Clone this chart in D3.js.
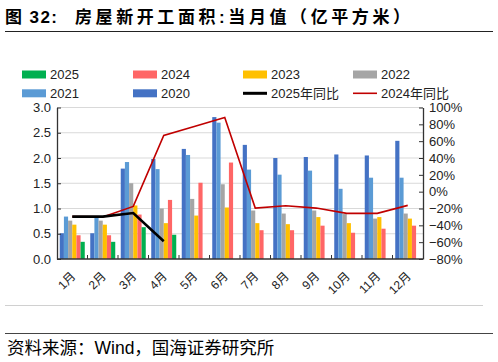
<!DOCTYPE html>
<html>
<head>
<meta charset="utf-8">
<script src="https://cdn.jsdelivr.net/npm/d3@7"></script>
<style>
  body { margin: 0; background: #fff; }
  svg { display: block; font-family: "Liberation Sans", Arial, "Noto Sans CJK SC", sans-serif; }
</style>
</head>
<body>
<div id="chart"></div>
<script>
// 数据（亿平方米 / 同比）
const months = ["1月","2月","3月","4月","5月","6月","7月","8月","9月","10月","11月","12月"];
const years = ["2020","2021","2022","2023","2024","2025"];
const v2020 = [0.51,0.51,1.79,1.98,2.18,2.81,2.26,2.00,2.02,2.07,2.05,2.34];
const v2021 = [0.84,0.82,1.92,1.78,2.06,2.70,1.77,1.67,1.75,1.39,1.61,1.61];
const v2022 = [0.76,0.76,1.50,1.00,1.19,1.48,0.96,0.90,0.96,0.89,0.80,0.90];
const v2023 = [0.68,0.68,1.06,0.71,0.86,1.02,0.71,0.69,0.83,0.71,0.83,0.80];
const v2024 = [0.47,0.47,0.88,1.17,1.51,1.91,0.57,0.57,0.66,0.52,0.60,0.66];
const v2025 = [0.34,0.34,0.63,0.48];
const yoy2025 = [-0.297,-0.297,-0.254,-0.59];
const yoy2024 = [-0.297,-0.30,-0.175,0.668,0.775,0.88,-0.195,-0.167,-0.195,-0.258,-0.258,-0.163];
const leftTicks = [0,0.5,1,1.5,2,2.5,3];
const rightTicks = [-0.8,-0.6,-0.4,-0.2,0,0.2,0.4,0.6,0.8,1.0];

const colors = {"2020":"#4472C4","2021":"#5B9BD5","2022":"#A5A5A5","2023":"#FFC000","2024":"#FF6666","2025":"#00B050"};
const series = {"2020":v2020,"2021":v2021,"2022":v2022,"2023":v2023,"2024":v2024,"2025":v2025};

const W = 498, H = 362;
const svg = d3.select("#chart").append("svg").attr("width", W).attr("height", H);

// 标题
svg.append("text").attr("x", 5).attr("y", 23)
  .attr("font-size", 17).attr("font-weight", "bold").attr("fill", "#000")
  .attr("textLength", 52).attr("lengthAdjust", "spacing")
  .text("图 32:");
svg.append("text").attr("x", 75).attr("y", 23)
  .attr("font-size", 17).attr("font-weight", "bold").attr("fill", "#000")
  .attr("textLength", 335).attr("lengthAdjust", "spacing")
  .text("房屋新开工面积:当月值（亿平方米）");
svg.append("line").attr("x1", 5).attr("x2", 493).attr("y1", 31.5).attr("y2", 31.5)
  .attr("stroke", "#222").attr("stroke-width", 1);

const x0 = 57, x1 = 423, yTop = 107.5, yBot = 259;
const x = d3.scaleBand().domain(months).range([x0, x1]).paddingInner(0.18).paddingOuter(0.09);
const xi = d3.scaleBand().domain(years).range([0, x.bandwidth()]);
const yL = d3.scaleLinear().domain([0, 3]).range([yBot, yTop]);
const yR = d3.scaleLinear().domain([-0.8, 1.0]).range([yBot, yTop]);

// 网格线
svg.append("g").selectAll("line").data(leftTicks.slice(1)).join("line")
  .attr("x1", x0).attr("x2", x1)
  .attr("y1", d => yL(d)).attr("y2", d => yL(d))
  .attr("stroke", "#d9d9d9").attr("stroke-width", 1.2);

// 柱子
years.forEach(yr => {
  svg.append("g").selectAll("rect").data(series[yr]).join("rect")
    .attr("x", (d, i) => x(months[i]) + xi(yr))
    .attr("width", xi.bandwidth())
    .attr("y", d => yL(d))
    .attr("height", d => yBot - yL(d))
    .attr("fill", colors[yr]);
});

// 坐标轴
const axL = svg.append("g").attr("transform", `translate(${x0},0)`)
  .call(d3.axisLeft(yL).tickValues(leftTicks).tickFormat(d3.format(".1f")).tickSizeInner(-4).tickSizeOuter(0).tickPadding(6));
const axR = svg.append("g").attr("transform", `translate(${x1},0)`)
  .call(d3.axisRight(yR).tickValues(rightTicks).tickFormat(d3.format(".0%")).tickSizeInner(-4).tickSizeOuter(0).tickPadding(6));
[axL, axR].forEach(a => {
  a.select(".domain").attr("stroke", "#333").attr("stroke-width", 1.3);
  a.selectAll(".tick line").attr("stroke", "#333");
  a.selectAll("text").attr("font-size", 13).attr("fill", "#222")
    .attr("font-family", "Liberation Sans, Arial, sans-serif");
});

// x轴
const step = x.step();
svg.append("line").attr("x1", x0).attr("x2", x1).attr("y1", yBot).attr("y2", yBot)
  .attr("stroke", "#333").attr("stroke-width", 1.3);
svg.append("g").selectAll("line").data(d3.range(1, 12)).join("line")
  .attr("x1", i => x0 + x.paddingOuter() * step + i * step - x.paddingInner() * step / 2)
  .attr("x2", i => x0 + x.paddingOuter() * step + i * step - x.paddingInner() * step / 2)
  .attr("y1", yBot).attr("y2", yBot - 4)
  .attr("stroke", "#333");
svg.append("g").selectAll("text").data(months).join("text")
  .attr("transform", d => `translate(${x(d) + x.bandwidth() / 2 + 1},${yBot + 15}) rotate(-45)`)
  .attr("text-anchor", "end").attr("dy", "0.35em")
  .attr("font-size", 12).attr("fill", "#222")
  .text(d => d);

// 同比折线
const cx = (d, i) => x(months[i]) + x.bandwidth() / 2;
svg.append("path").datum(yoy2024)
  .attr("d", d3.line().x(cx).y(d => yR(d)))
  .attr("fill", "none").attr("stroke", "#C00000").attr("stroke-width", 1.6);
svg.append("path").datum(yoy2025)
  .attr("d", d3.line().x(cx).y(d => yR(d)))
  .attr("fill", "none").attr("stroke", "#000").attr("stroke-width", 2.6);

// 图例
const legendItems = [
  {label: "2025", color: colors["2025"], type: "rect"},
  {label: "2024", color: colors["2024"], type: "rect"},
  {label: "2023", color: colors["2023"], type: "rect"},
  {label: "2022", color: colors["2022"], type: "rect"},
  {label: "2021", color: colors["2021"], type: "rect"},
  {label: "2020", color: colors["2020"], type: "rect"},
  {label: "2025年同比", color: "#000", type: "line", w: 3},
  {label: "2024年同比", color: "#C00000", type: "line", w: 1.6}
];
const colX = [22, 133, 243, 353], rowY = [74.5, 93.3];
const lg = svg.append("g").selectAll("g").data(legendItems).join("g")
  .attr("transform", (d, i) => `translate(${colX[i % 4]},${rowY[Math.floor(i / 4)]})`);
lg.filter(d => d.type === "rect").append("rect")
  .attr("x", 0).attr("y", -4).attr("width", 24).attr("height", 8).attr("fill", d => d.color);
lg.filter(d => d.type === "line").append("line")
  .attr("x1", 0).attr("x2", 24).attr("y1", 0).attr("y2", 0)
  .attr("stroke", d => d.color).attr("stroke-width", d => d.w);
lg.append("text").attr("x", 28).attr("dy", "0.36em")
  .attr("font-size", 13).attr("fill", "#222").text(d => d.label);

// 底部
svg.append("line").attr("x1", 5).attr("x2", 483).attr("y1", 305.5).attr("y2", 305.5)
  .attr("stroke", "#d0d0d0").attr("stroke-width", 1);
svg.append("line").attr("x1", 5).attr("x2", 493).attr("y1", 333.5).attr("y2", 333.5)
  .attr("stroke", "#444").attr("stroke-width", 1.2);
svg.append("text").attr("x", 7).attr("y", 354)
  .attr("font-size", 17.5).attr("fill", "#000")
  .text("资料来源：Wind，国海证券研究所");
</script>
</body>
</html>
